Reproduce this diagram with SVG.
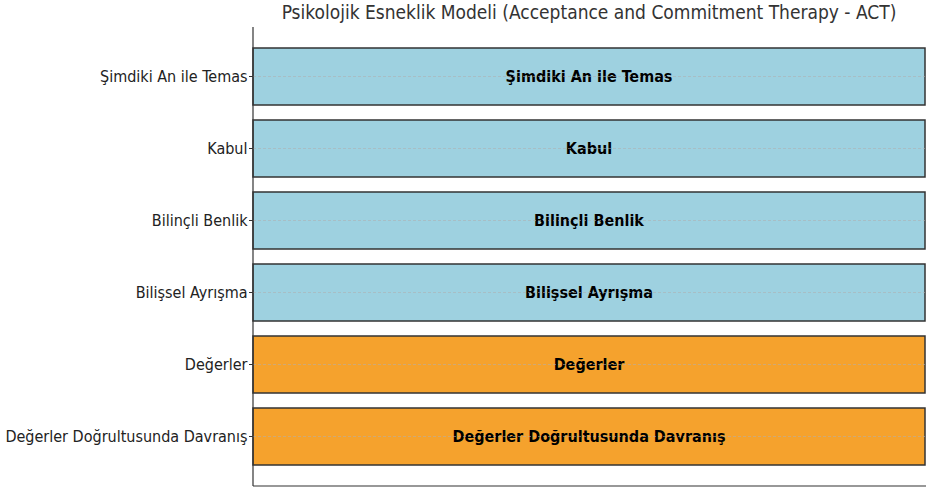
<svg xmlns="http://www.w3.org/2000/svg" width="926" height="491" viewBox="0 0 926 491">
<style>
.bg{fill:#ffffff}
.bar{stroke:#333333;stroke-width:1.5}
.blue{fill:#9ED1E0}
.orange{fill:#F5A22D}
.grid{stroke:#b0b0b0;stroke-width:0.8;stroke-dasharray:3,2;opacity:0.7}
.spine{stroke:#333333;stroke-width:1.2;fill:none}
.tick{stroke:#333333;stroke-width:1}
.tl{font-family:"DejaVu Sans Condensed","DejaVu Sans",sans-serif;font-stretch:condensed;font-size:16px;fill:#222222;text-anchor:end}
.bl{font-family:"DejaVu Sans Condensed","DejaVu Sans",sans-serif;font-stretch:condensed;font-size:16px;font-weight:bold;fill:#000000;text-anchor:middle}
.title{font-family:"DejaVu Sans Condensed","DejaVu Sans",sans-serif;font-stretch:condensed;font-size:19px;fill:#333333;text-anchor:middle}
</style>
<rect class="bg" x="0" y="0" width="926" height="491"/>
<text class="title" x="589" y="19">Psikolojik Esneklik Modeli (Acceptance and Commitment Therapy - ACT)</text>
<g id="bars">
<g id="n1"><rect class="bar blue" x="253" y="48" width="672" height="57"/><text class="bl" x="589" y="82.3">Şimdiki An ile Temas</text></g>
<g id="n2"><rect class="bar blue" x="253" y="120" width="672" height="57"/><text class="bl" x="589" y="154.3">Kabul</text></g>
<g id="n3"><rect class="bar blue" x="253" y="192" width="672" height="57"/><text class="bl" x="589" y="226.3">Bilinçli Benlik</text></g>
<g id="n4"><rect class="bar blue" x="253" y="264" width="672" height="57"/><text class="bl" x="589" y="298.3">Bilişsel Ayrışma</text></g>
<g id="n5"><rect class="bar orange" x="253" y="336" width="672" height="57"/><text class="bl" x="589" y="370.3">Değerler</text></g>
<g id="n6"><rect class="bar orange" x="253" y="408" width="672" height="57"/><text class="bl" x="589" y="442.3">Değerler Doğrultusunda Davranış</text></g>
</g>
<g id="connectors">
<line class="grid" x1="253" y1="76.5" x2="925" y2="76.5"/>
<line class="grid" x1="253" y1="148.5" x2="925" y2="148.5"/>
<line class="grid" x1="253" y1="220.5" x2="925" y2="220.5"/>
<line class="grid" x1="253" y1="292.5" x2="925" y2="292.5"/>
<line class="grid" x1="253" y1="364.5" x2="925" y2="364.5"/>
<line class="grid" x1="253" y1="436.5" x2="925" y2="436.5"/>
</g>
<g id="axes">
<line class="spine" x1="253" y1="27" x2="253" y2="486"/>
<line class="spine" x1="253" y1="486" x2="926" y2="486"/>
<line class="tick" x1="249" y1="76.5" x2="253" y2="76.5"/>
<line class="tick" x1="249" y1="148.5" x2="253" y2="148.5"/>
<line class="tick" x1="249" y1="220.5" x2="253" y2="220.5"/>
<line class="tick" x1="249" y1="292.5" x2="253" y2="292.5"/>
<line class="tick" x1="249" y1="364.5" x2="253" y2="364.5"/>
<line class="tick" x1="249" y1="436.5" x2="253" y2="436.5"/>
<text class="tl" x="247.5" y="82.3">Şimdiki An ile Temas</text>
<text class="tl" x="247.5" y="154.3">Kabul</text>
<text class="tl" x="247.5" y="226.3">Bilinçli Benlik</text>
<text class="tl" x="247.5" y="298.3">Bilişsel Ayrışma</text>
<text class="tl" x="247.5" y="370.3">Değerler</text>
<text class="tl" x="247.5" y="442.3">Değerler Doğrultusunda Davranış</text>
</g>
</svg>
